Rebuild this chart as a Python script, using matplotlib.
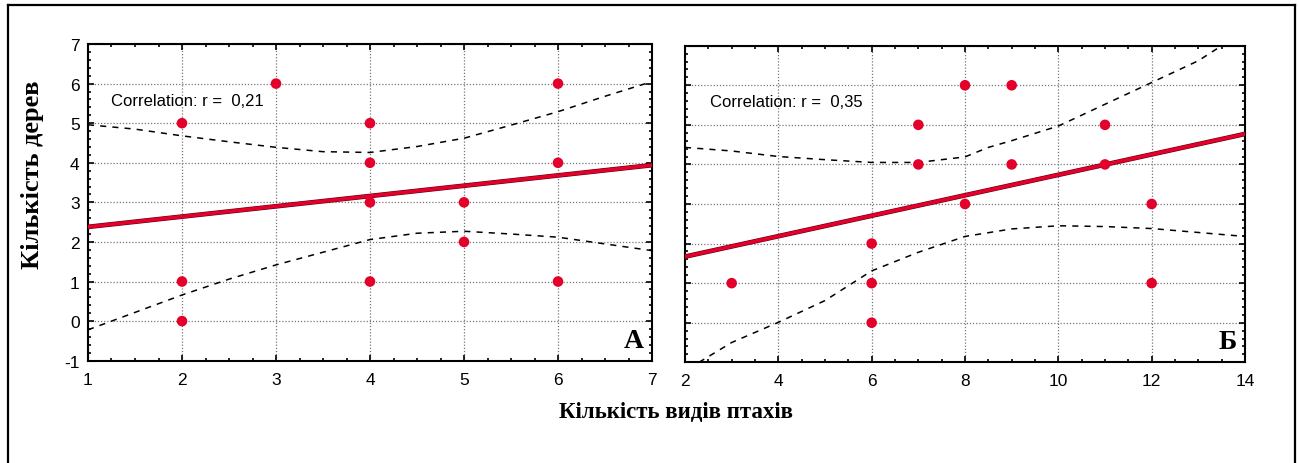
import matplotlib.pyplot as plt
import matplotlib.patheffects as pe
from matplotlib.ticker import MultipleLocator
from matplotlib.lines import Line2D

plt.rcParams['axes.unicode_minus'] = False

# panel A: birds species count vs trees count
a_x = [2, 2, 2, 3, 4, 4, 4, 4, 5, 5, 6, 6, 6]
a_y = [5, 1, 0, 6, 5, 4, 3, 1, 3, 2, 6, 4, 1]
a_fit_x = [1, 7]
a_fit_y = [2.38, 3.94]
a_band_x = [1, 1.5, 2, 2.5, 3, 3.5, 4, 4.5, 5, 5.5, 6, 6.5, 7]
a_upper = [4.96, 4.85, 4.68, 4.53, 4.39, 4.28, 4.26, 4.41, 4.62, 4.95, 5.29, 5.68, 6.05]
a_lower = [-0.22, 0.22, 0.66, 1.06, 1.42, 1.74, 2.06, 2.22, 2.27, 2.2, 2.12, 1.95, 1.78]
a_r = "0,21"

# panel B
b_x = [3, 6, 6, 6, 7, 7, 8, 8, 9, 9, 11, 11, 12, 12]
b_y = [1, 2, 1, 0, 5, 4, 6, 3, 6, 4, 5, 4, 3, 1]
b_fit_x = [2, 14]
b_fit_y = [1.67, 4.77]
b_upper_x = [2, 3, 4, 5, 6, 7, 8, 8.5, 9, 10, 11, 12, 13, 13.5]
b_upper = [4.43, 4.34, 4.2, 4.12, 4.05, 4.05, 4.19, 4.43, 4.6, 4.97, 5.52, 6.07, 6.62, 7.0]
b_lower_x = [2.3, 3, 4, 5, 6, 7, 8, 9, 10, 11, 12, 13, 14]
b_lower = [-1.0, -0.5, 0.01, 0.56, 1.31, 1.78, 2.18, 2.37, 2.45, 2.43, 2.38, 2.28, 2.18]
b_r = "0,35"

red = '#e3002b'
sans = ['Liberation Sans', 'DejaVu Sans']
serif = ['Liberation Serif', 'DejaVu Serif']

fig = plt.figure(figsize=(12.99, 4.64), dpi=100)

# frame around the whole figure (bottom edge runs off the page)
W, H = 1299, 464
for xs, ys in [([8, 8], [6, 464]), ([8, 1295], [6, 6]), ([1295, 1295], [6, 464])]:
    fig.add_artist(Line2D([x / W for x in xs], [1 - y / H for y in ys],
                          color='black', lw=1.6, transform=fig.transFigure))

ax_a = fig.add_axes([88 / W, 1 - 361.7 / H, 564 / W, 316.7 / H])
ax_b = fig.add_axes([685 / W, 1 - 363.3 / H, 560 / W, 316.6 / H])


def draw_panel(ax, x, y, fit_x, fit_y, ux, uy, lx, ly, r, letter, xlim, xstep, ann_x):
    ax.set_xlim(*xlim)
    ax.set_ylim(-1, 7)
    ax.xaxis.set_major_locator(MultipleLocator(xstep))
    ax.xaxis.set_minor_locator(MultipleLocator(xstep / 4))
    ax.yaxis.set_major_locator(MultipleLocator(1))
    ax.yaxis.set_minor_locator(MultipleLocator(0.2))
    ax.grid(True, which='major', color='#777777', ls=(0, (1, 1.5)), lw=0.9)
    ax.tick_params(which='both', direction='in', top=True, right=True,
                   labelsize=12.5, width=1.2, colors='black')
    ax.tick_params(which='major', length=4)
    ax.tick_params(axis='x', which='major', pad=8)
    ax.tick_params(axis='y', which='major', pad=6)
    ax.tick_params(which='minor', length=2.5)
    for lab in ax.get_xticklabels() + ax.get_yticklabels():
        lab.set_family(sans)
    for s in ax.spines.values():
        s.set_linewidth(1.5)

    ax.plot(ux, uy, color='black', lw=1.1, ls=(0, (4, 4)), zorder=3)
    ax.plot(lx, ly, color='black', lw=1.1, ls=(0, (4, 4)), zorder=3)
    ax.plot(fit_x, fit_y, color=red, lw=2.6, zorder=4,
            path_effects=[pe.Stroke(linewidth=3.4, foreground='#5a0010'), pe.Normal()])
    ax.scatter(x, y, s=58, color=red, edgecolors='none', zorder=5, clip_on=False)

    ax.text(ann_x, 5.58, f"Correlation: r =  {r}", fontsize=12, family=sans,
            va='center', ha='left')
    ax.text(0.985, 0.025, letter, transform=ax.transAxes, fontsize=20,
            family=serif, fontweight='bold', ha='right', va='bottom')


draw_panel(ax_a, a_x, a_y, a_fit_x, a_fit_y, a_band_x, a_upper, a_band_x, a_lower,
           a_r, "А", (1, 7), 1, 1.24)
draw_panel(ax_b, b_x, b_y, b_fit_x, b_fit_y, b_upper_x, b_upper, b_lower_x, b_lower,
           b_r, "Б", (2, 14), 2, 2.54)
ax_b.tick_params(labelleft=False)

fig.text(33 / W, 1 - 175 / H, "Кількість дерев", rotation=90, fontsize=19,
         family=serif, fontweight='bold', ha='center', va='center')
fig.text(676 / W, 1 - 412 / H, "Кількість видів птахів", fontsize=16.5,
         family=serif, fontweight='bold', ha='center', va='center')

fig.savefig('out.png', dpi=100)
